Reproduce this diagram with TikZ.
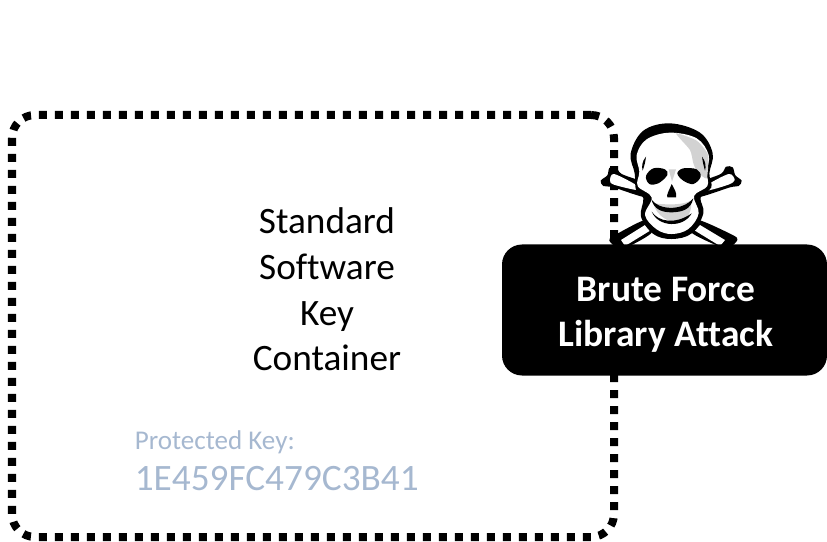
\documentclass[tikz,border=0pt]{standalone}
\usepackage{fontspec}
\setmainfont[Ligatures=NoCommon]{Carlito}
\usepackage{tikz}
\usetikzlibrary{positioning}
\definecolor{keyblue}{HTML}{A6B8D0}
\definecolor{skullgrey}{HTML}{D2D2D2}
\tikzset{
	container/.style={draw, line width=0.16cm, dash pattern=on 0.16cm off 0.16cm, rounded corners=0.46cm, minimum width=12.04cm, minimum height=8.44cm},
	attack/.style={fill=black, rounded corners=0.4cm, minimum width=6.5cm, minimum height=2.62cm},
	attacktext/.style={text=white, align=center, font=\fontsize{21.3}{25.5}\selectfont\bfseries},
	plain/.style={align=center, font=\fontsize{21.2}{26}\selectfont},
	keytext/.style={text=keyblue, anchor=west, inner sep=0pt}
}
\begin{document}
\begin{tikzpicture}
	\useasboundingbox (0,0) rectangle (16.54,10.82);
	\node (keybox) [container] at (6.26,4.30) {};
	\node (title) [plain] at (6.54,5.03) {Standard\\Software\\Key\\Container};
	\node (keylabel) [keytext, font=\fontsize{15.4}{18}\selectfont] at (2.69,1.98) {Protected Key:};
	\node (keyvalue) [keytext, font=\fontsize{21.2}{25}\selectfont] at (2.69,1.24) {1E459FC479C3B41};
	% skull, in its own small grid
	\begin{scope}[shift={(11.8,8.62)}, x=0.00667cm, y=-0.00667cm]
		% bones
		\fill[black] plot[smooth cycle, tension=0.5] coordinates {(170,262) (70,232) (40,228) (32,212) (52,196) (58,174) (78,170) (95,192) (170,222)};
		\fill[black] plot[smooth cycle, tension=0.5] coordinates {(320,262) (420,232) (446,228) (455,212) (436,196) (428,172) (408,170) (392,192) (320,222)};
		\fill[black] plot[smooth cycle, tension=0.4] coordinates {(165,330) (70,378) (58,392) (80,412) (118,408) (185,368)};
		\fill[black] plot[smooth cycle, tension=0.4] coordinates {(325,330) (430,376) (442,390) (420,412) (385,408) (305,368)};
		\fill[white] plot[smooth cycle, tension=0.5] coordinates {(140,240) (72,224) (60,212) (72,192) (140,226)};
		\fill[white] plot[smooth cycle, tension=0.5] coordinates {(350,242) (415,224) (434,210) (416,192) (350,226)};
		\fill[white] (165,345) -- (93,390) -- (105,408) -- (180,362) -- cycle;
		\fill[white] (330,345) -- (405,390) -- (390,408) -- (315,362) -- cycle;
		% head
		\fill[black] plot[smooth cycle, tension=0.6] coordinates {(240,40) (160,62) (122,130) (134,190) (138,240) (160,265) (153,320) (190,372) (245,387) (305,370) (340,310) (332,262) (364,232) (358,190) (368,130) (330,68)};
		\fill[white] plot[smooth cycle, tension=0.6] coordinates {(240,68) (170,88) (140,135) (148,185) (143,228) (185,262) (165,315) (200,358) (245,372) (295,357) (326,310) (312,258) (352,228) (350,185) (356,135) (320,85)};
		\fill[skullgrey] plot[smooth cycle, tension=0.35] coordinates {(258,70) (320,92) (354,135) (350,205) (322,185) (310,160) (300,120)};
		\fill[skullgrey] (190,280) .. controls (235,285) and (280,285) .. (302,272) .. controls (308,300) and (295,325) .. (270,338) .. controls (240,340) and (200,320) .. (190,280) -- cycle;
		% spurs beside the eyes
		\fill[black] (168,140) .. controls (155,155) and (155,170) .. (158,182) .. controls (164,165) and (166,155) .. (168,140) -- cycle;
		\fill[black] (336,140) .. controls (348,155) and (348,170) .. (345,182) .. controls (340,165) and (338,155) .. (336,140) -- cycle;
		% eyes and nose
		\fill[black] plot[smooth cycle, tension=0.6] coordinates {(168,198) (190,175) (225,178) (232,195) (205,220) (178,222)};
		\fill[black] plot[smooth cycle, tension=0.6] coordinates {(262,190) (280,175) (320,178) (332,200) (310,222) (280,212)};
		\fill[black] (245,222) .. controls (238,240) and (228,255) .. (232,262) -- (258,262) .. controls (262,250) and (252,235) .. (245,222) -- cycle;
		\fill[skullgrey] (236,178) -- (258,178) -- (246,215) -- cycle;
		% jaw
		\fill[black] (184,268) .. controls (205,300) and (275,305) .. (310,265) .. controls (302,300) and (275,306) .. (245,307) .. controls (215,307) and (192,298) .. (184,268) -- cycle;
		\fill[black] (185,305) .. controls (205,335) and (255,345) .. (305,310) .. controls (280,355) and (205,352) .. (185,305) -- cycle;
	\end{scope}
	\node (attackbox) [attack] at (13.29,4.62) {};
	\node (attacklabel) [attacktext] at (13.32,4.52) {Brute Force\\Library Attack};
\end{tikzpicture}
\end{document}
